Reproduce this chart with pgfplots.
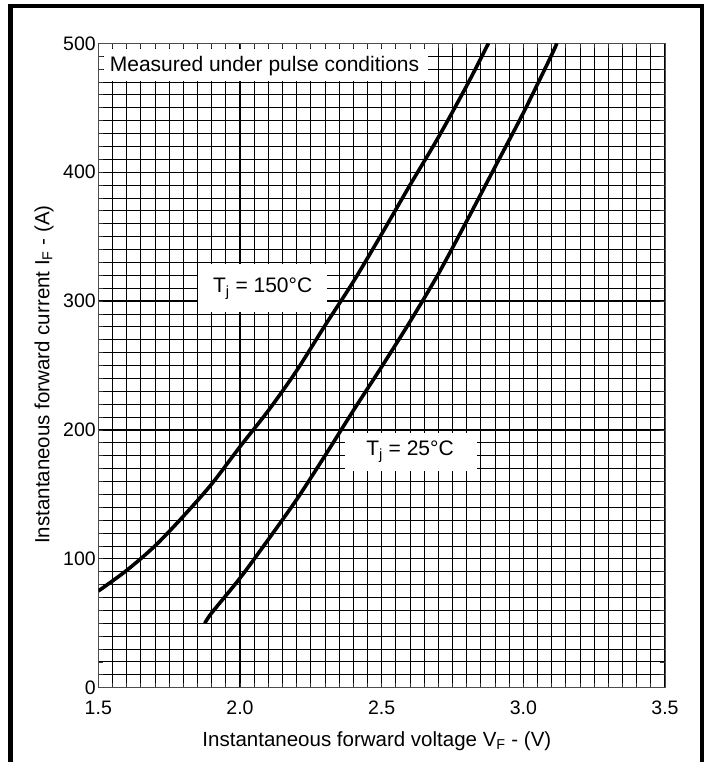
\documentclass[border=0pt]{standalone}
\usepackage{fontspec}
\setmainfont{Liberation Sans}
\usepackage{pgfplots}
\pgfplotsset{compat=1.18}

\begin{document}
\begin{tikzpicture}[x=1pt,y=1pt]
\useasboundingbox (-98.3,-74.3) rectangle (611.7,687.7);
% outer frame, open at the bottom
\draw[line width=4.3pt] (-87.8,-80) -- (-87.8,681.5) -- (603.7,681.5) -- (603.7,-80);
\begin{axis}[
  at={(0,0)}, anchor=south west,
  scale only axis, width=566.7pt, height=644.4pt,
  xmin=1.5, xmax=3.5, ymin=0, ymax=500,
  xtick={1.5,2.0,2.5,3.0,3.5}, ytick={0,100,200,300,400,500},
  minor x tick num=9, minor y tick num=9,
  grid=both,
  major grid style={black, line width=1.15pt},
  minor grid style={black, line width=0.85pt},
  axis line style={black!70, line width=1pt},
  tick style={black!80, line width=0.8pt},
  tick align=inside, major tick length=5pt, minor tick length=5pt,
  tick label style={font=\fontsize{19.5}{23}\selectfont},
  label style={font=\fontsize{20.5}{24}\selectfont},
  /pgf/number format/assume math mode=true,
  xticklabel style={/pgf/number format/.cd, fixed, fixed zerofill, precision=1, /tikz/.cd, yshift=-9.5pt},
  yticklabel style={xshift=1pt},
  xlabel={Instantaneous forward voltage V\textsubscript{F} - (V)},
  ylabel={Instantaneous forward current I\textsubscript{F} - (A)},
  xlabel style={at={(axis description cs:0.4916,-0.0836)}, anchor=center},
  ylabel style={at={(axis description cs:-0.0958,0.486)}, anchor=center},
]
% Tj = 150 C
\addplot[black, line width=3.6pt, smooth] coordinates {
  (1.5,75) (1.6,91) (1.7,110) (1.8,133) (1.9,158) (2.0,187) (2.1,215)
  (2.2,246) (2.3,281) (2.4,315) (2.5,352) (2.6,390) (2.7,427) (2.8,467) (2.877,500)
};
% Tj = 25 C
\addplot[black, line width=3.6pt, smooth] coordinates {
  (1.876,50) (1.9,58) (2.0,85) (2.1,115) (2.2,146) (2.3,180) (2.4,215)
  (2.5,249) (2.6,284) (2.7,321) (2.8,362) (2.9,404) (3.0,446) (3.1,491) (3.118,500)
};
% white label boxes, kept clear of the axis edges so the tick stubs stay visible
\fill[white] (axis cs:1.5185,470.5) rectangle (axis cs:2.663,495.9);
\fill[white] (axis cs:1.852,291.5) rectangle (axis cs:2.307,328.5);
\fill[white] (axis cs:2.37,168.5) rectangle (axis cs:2.838,197.5);
\node[anchor=west, font=\fontsize{21}{25}\selectfont, inner sep=0pt] at (axis cs:1.54,482) {Measured under pulse conditions};
\node[font=\fontsize{21}{25}\selectfont, inner sep=0pt] at (axis cs:2.08,309.7) {T\textsubscript{j} = 150\textdegree C};
\node[font=\fontsize{21}{25}\selectfont, inner sep=0pt] at (axis cs:2.6,183.2) {T\textsubscript{j} = 25\textdegree C};
\end{axis}
\end{tikzpicture}
\end{document}
